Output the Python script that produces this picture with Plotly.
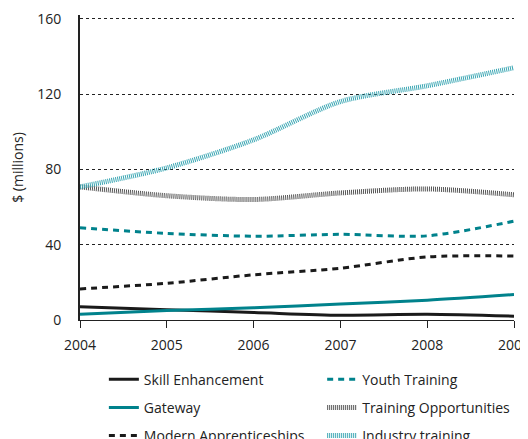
import plotly.graph_objects as go

years = [2004, 2005, 2006, 2007, 2008, 2009]
skill_enhancement = [7, 5.5, 4, 2.5, 3, 2]
gateway = [3, 5, 6.5, 8.5, 10.5, 13.5]
modern_apprenticeships = [16.5, 19.5, 24, 27.5, 33.5, 34]
youth_training = [49, 46, 44.5, 45.5, 44.7, 52.5]
training_opportunities = [70.7, 66, 64, 67.5, 69.6, 66.5]
industry_training = [70.7, 80.8, 95.7, 116, 124.4, 134]

TEAL = "#00828c"
LTEAL = "#3aa6b3"
BLACK = "#1a1a1a"
GRAY = "#555555"

series = [
    ("Skill Enhancement", skill_enhancement, BLACK, "solid", 3, "legend"),
    ("Gateway", gateway, TEAL, "solid", 3, "legend"),
    ("Modern Apprenticeships", modern_apprenticeships, BLACK, "6px,5px", 3, "legend"),
    ("Youth Training", youth_training, TEAL, "6px,5px", 3, "legend2"),
    ("Training Opportunities", training_opportunities, GRAY, "1px,1px", 5, "legend2"),
    ("Industry training", industry_training, LTEAL, "1px,1px", 5, "legend2"),
]

fig = go.Figure()
for name, vals, col, dash, w, lg in series:
    fig.add_trace(go.Scatter(
        x=years, y=vals, name=name, mode="lines",
        line=dict(color=col, width=w, dash=dash, shape="spline", smoothing=0.8),
        legend=lg, legendgroup=name,
    ))

font = "Open Sans, Lato, sans-serif"
leg_common = dict(
    yref="container", y=0.19, xanchor="left", yanchor="top",
    orientation="v", traceorder="grouped", tracegroupgap=7,
    font=dict(size=14), bgcolor="rgba(0,0,0,0)", itemwidth=30,
)
fig.update_layout(
    width=528, height=439,
    margin=dict(l=72, r=22, t=7, b=127, autoexpand=False),
    plot_bgcolor="white", paper_bgcolor="white",
    font=dict(family=font, size=13, color="#222"),
    xaxis=dict(
        range=[2004, 2009], tickvals=years, showgrid=False,
        showline=True, linecolor="#222", linewidth=1,
        ticks="outside", ticklen=7, tickcolor="#222",
        tickfont=dict(size=14), zeroline=False, ticklabelstandoff=5,
    ),
    yaxis=dict(
        range=[0, 162], tickvals=[0, 40, 80, 120, 160],
        showgrid=True, gridcolor="#222", griddash="dot", gridwidth=1,
        showline=True, linecolor="#222", linewidth=2,
        ticks="", tickfont=dict(size=14), zeroline=False, ticklabelstandoff=14,
        title=dict(text="$ (millions)", font=dict(size=14), standoff=14),
    ),
    legend=dict(x=0.055, xref="paper", **leg_common),
    legend2=dict(x=0.558, xref="paper", **leg_common),
)
fig.write_html("out.html")
